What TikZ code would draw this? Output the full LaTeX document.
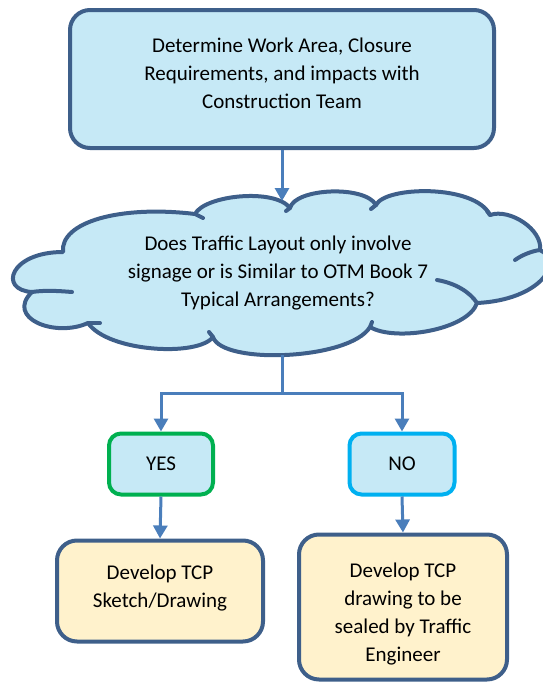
\documentclass[tikz,border=0pt]{standalone}
\usepackage{fontspec}
\setmainfont{Carlito}
\usetikzlibrary{arrows.meta,positioning}
\definecolor{boxfill}{HTML}{C6E9F6}
\definecolor{boxedge}{HTML}{3E5F8A}
\definecolor{arrowc}{HTML}{4A7EBB}
\definecolor{yelfill}{HTML}{FFF2CC}
\definecolor{yesedge}{HTML}{00B050}
\definecolor{noedge}{HTML}{00B0F0}
\tikzset{
  txt/.style={align=center, font=\fontsize{21}{28}\selectfont, inner sep=0pt},
  shp/.style={line width=4pt, inner sep=0pt},
  bluebox/.style={shp, draw=boxedge, fill=boxfill, rounded corners=20pt},
  yelbox/.style={shp, draw=boxedge, fill=yelfill, rounded corners=20pt},
  choice/.style={shp, fill=boxfill, rounded corners=12pt},
  conn/.style={draw=arrowc, line width=3pt},
  arr/.style={conn, -{Triangle[width=14pt,length=13pt]}},
  cloudline/.style={draw=boxedge, line width=4pt, line cap=round},
}
\begin{document}
\begin{tikzpicture}[x=1pt,y=-1pt]
\useasboundingbox (0,0) rectangle (543,683);
% top box
\node[bluebox, minimum width=424pt, minimum height=138pt] (top) at (282,79) {};
\node[txt] (topt) at (282,73) {Determine Work Area, Closure\\Requirements, and impacts with\\Construction Team};
% cloud
\coordinate (c1) at (32,292);
\coordinate (c2) at (63,252);
\coordinate (c3) at (195,214);
\coordinate (c4) at (290,208);
\coordinate (c5) at (376,205);
\coordinate (c6) at (490,215);
\coordinate (c7) at (540,250);
\coordinate (c8) at (477,303);
\coordinate (c9) at (370,327);
\coordinate (c10) at (213,337);
\coordinate (c11) at (88,323);
\path[cloudline, fill=boxfill, line cap=butt, line join=round]
  (c1) .. controls (-2,290) and (10,252) .. (c2)
  .. controls (60,222) and (120,205) .. (c3)
  .. controls (205,195) and (275,188) .. (c4)
  .. controls (295,188) and (365,185) .. (c5)
  .. controls (385,186) and (475,184) .. (c6)
  .. controls (510,208) and (543,230) .. (c7)
  .. controls (565,262) and (540,300) .. (c8)
  .. controls (468,330) and (395,342) .. (c9)
  .. controls (350,360) and (222,365) .. (c10)
  .. controls (198,357) and (108,352) .. (c11)
  .. controls (55,338) and (5,318) .. (c1) -- cycle;
\draw[cloudline] (c1) .. controls (45,290) and (60,291) .. (72,292);
\draw[cloudline] (c11) -- (100,323);
\draw[cloudline] (c3) -- (203,218);
\draw[cloudline] (c4) -- (286,211);
\draw[cloudline] (c5) -- (371,209);
\draw[cloudline] (c6) -- (487,211);
\draw[cloudline] (c7) .. controls (532,251) and (522,255) .. (515,260);
\draw[cloudline] (c8) .. controls (470,292) and (455,283) .. (437,280);
\draw[cloudline] (c9) -- (372,322);
\draw[cloudline] (c10) -- (209,332);
\node[txt] (q) at (278,273) {Does Traffic Layout only involve\\signage or is Similar to OTM Book 7\\Typical Arrangements?};
\coordinate (qbot) at (282,355);
% choices
\node[choice, draw=yesedge, minimum width=104pt, minimum height=61pt] (yes) at (161,464) {};
\node[txt] (yest) at (161,464) {YES};
\node[choice, draw=noedge, minimum width=105pt, minimum height=61pt] (no) at (402,464) {};
\node[txt] (not) at (402,464) {NO};
% results
\node[yelbox, minimum width=206pt, minimum height=101pt] (sk) at (160,591) {};
\node[txt] (skt) at (160,588) {Develop TCP\\Sketch/Drawing};
\node[yelbox, minimum width=208pt, minimum height=145pt] (seal) at (403,607) {};
\node[txt] (sealt) at (403,614) {Develop TCP\\drawing to be\\sealed by Traffic\\Engineer};
% connectors
\coordinate (split) at (282,393);
\draw[arr] (top.south -| qbot) -- (282,201);
\draw[conn] (qbot) -- (split);
\draw[arr] (split) -| (yes.north);
\draw[arr] (split) -| (no.north);
\draw[arr] (yes.south) -- (sk.north);
\draw[arr] (no.south) -- (seal.north);
\end{tikzpicture}
\end{document}
